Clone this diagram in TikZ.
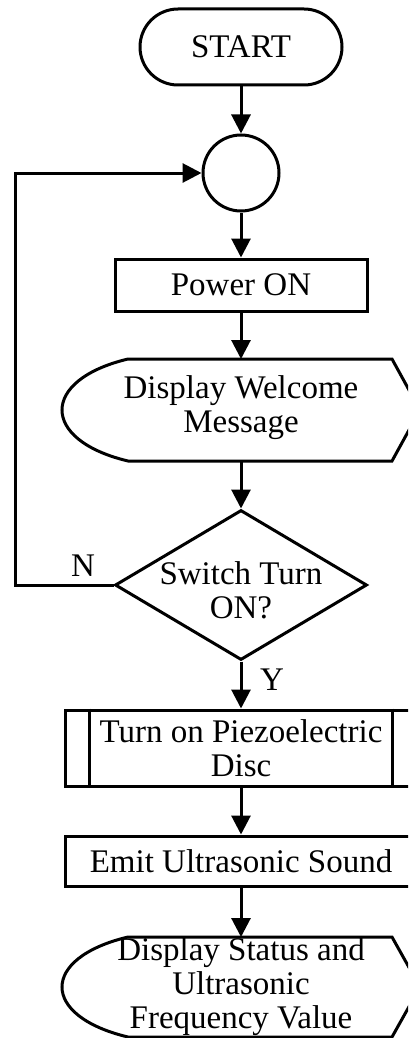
\documentclass[tikz,border=0pt]{standalone}
\usepackage{fontspec}
\setmainfont{Liberation Serif}
\usetikzlibrary{arrows.meta,shapes.geometric}
\tikzset{
	flow/.style={line width=3pt},
	arr/.style={flow, -{Triangle[length=19pt,width=19pt]}},
	txt/.style={font=\fontsize{33}{34}\selectfont, align=center, inner sep=0pt},
	box/.style={flow, draw, rectangle, inner sep=0pt},
}
\begin{document}
\begin{tikzpicture}[x=1pt, y=-1pt]
		\useasboundingbox (0,0) rectangle (408,1038);
		\clip (0,0) rectangle (408,1038);
		% start and connector
		\node[box, rounded corners=38pt, minimum width=202pt, minimum height=76pt, txt] (start) at (241,47) {START};
		\node[flow, draw, circle, minimum size=76pt, inner sep=0pt] (join) at (241,173) {};
		\node[box, minimum width=252pt, minimum height=52pt, txt] (power) at (241,285) {Power ON};
		% display welcome message
		\draw[flow] (128,359) -- (392,359) -- (420,410) -- (392,461) -- (128,461)
			.. controls (40,440) and (40,380) .. cycle;
		\node[txt] (welcome) at (241,408) {Display Welcome\\Message};
		\coordinate (welcometop) at (241,359);
		\coordinate (welcomebot) at (241,461);
		% decision
		\node[flow, draw, diamond, minimum width=252pt, minimum height=150pt, inner sep=0pt] (switch) at (241,585) {};
		\node[txt] (switchtxt) at (241,590) {Switch Turn\\ON?};
		\node[txt] (no) at (83,566) {N};
		\node[txt] (yes) at (272,680) {Y};
		\coordinate (loopdown) at (15,585);
		\coordinate (loopup) at (15,173);
		% piezo disc
		\node[box, minimum width=352pt, minimum height=76pt] (piezo) at (241,748) {};
		\draw[flow] ([xshift=26pt]piezo.north west) -- ([xshift=26pt]piezo.south west);
		\draw[flow] ([xshift=-26pt]piezo.north east) -- ([xshift=-26pt]piezo.south east);
		\node[txt] (piezotxt) at (241,748) {Turn on Piezoelectric\\Disc};
		\node[box, minimum width=352pt, minimum height=50pt, txt] (emit) at (241,861) {Emit Ultrasonic Sound};
		% display status
		\draw[flow] (128,937) -- (392,937) -- (420,987) -- (392,1037) -- (128,1037)
			.. controls (40,1016) and (40,958) .. cycle;
		\node[txt] (status) at (241,987) {Display Status and\\Ultrasonic\\Frequency Value};
		\coordinate (statustop) at (241,937);
		% arrows
		\draw[arr] (start) -- (join);
		\draw[arr] (join) -- (power);
		\draw[arr] (power) -- (welcometop);
		\draw[arr] (welcomebot) -- (switch.north);
		\draw[arr] (switch.west) -- (loopdown) -- (loopup) -- (join.west);
		\draw[arr] (switch.south) -- (piezo.north);
		\draw[arr] (piezo) -- (emit);
		\draw[arr] (emit) -- (statustop);
	\end{tikzpicture}
\end{document}
